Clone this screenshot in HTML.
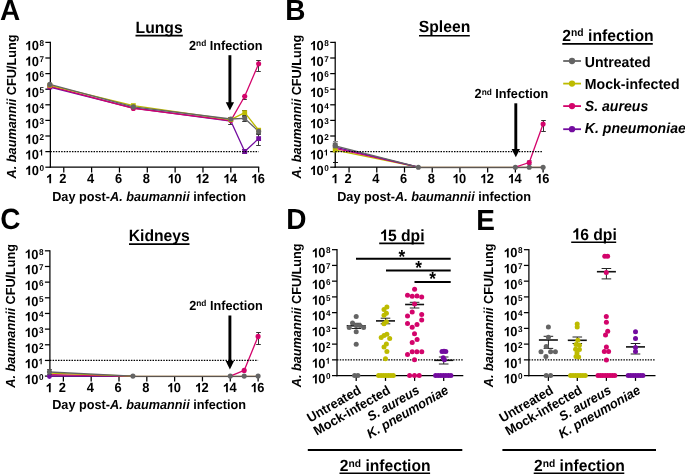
<!DOCTYPE html><html><head><meta charset="utf-8"><style>html,body{margin:0;padding:0;background:#fff;overflow:hidden;width:685px;height:474px;}svg{display:block;will-change:transform;}text{font-family:"Liberation Sans",sans-serif;fill:#000;text-rendering:geometricPrecision;}</style></head><body>
<svg width="685" height="474" viewBox="0 0 685 474">
<rect width="685" height="474" fill="#fff"/>
<defs><path id="one" d="M894 0H615V1052Q462 909 254 841V1094Q363 1130 491 1229Q619 1329 667 1466H894Z"/></defs>
<text transform="translate(-0.1,19.8) scale(1,1.045)" font-size="28" font-weight="bold" text-anchor="start" >A</text>
<text transform="translate(159.15,32.8) scale(1,1.035)" font-size="15.7" font-weight="bold" text-anchor="middle" >Lungs</text>
<line x1="135.5" y1="35.6" x2="182.8" y2="35.6" stroke="#000" stroke-width="1.6" />
<line x1="50.35" y1="41.8" x2="50.35" y2="167.8" stroke="#000" stroke-width="1.25" />
<line x1="45.35" y1="167.2" x2="50.35" y2="167.2" stroke="#000" stroke-width="1.25" />
<use href="#one" transform="translate(24.53,175) scale(0.00630,-0.00627)"/>
<text transform="translate(31.71,175) scale(1,1.035)" font-size="12.9" font-weight="bold" text-anchor="start" >0</text>
<text transform="translate(39.38,171) scale(1,1.035)" font-size="8.2" font-weight="bold" text-anchor="start" >0</text>
<line x1="45.35" y1="151.6" x2="50.35" y2="151.6" stroke="#000" stroke-width="1.25" />
<use href="#one" transform="translate(24.53,159.4) scale(0.00630,-0.00627)"/>
<text transform="translate(31.71,159.4) scale(1,1.035)" font-size="12.9" font-weight="bold" text-anchor="start" >0</text>
<use href="#one" transform="translate(38.58,155.4) scale(0.00400,-0.00398)"/>
<line x1="45.35" y1="136" x2="50.35" y2="136" stroke="#000" stroke-width="1.25" />
<use href="#one" transform="translate(24.53,143.8) scale(0.00630,-0.00627)"/>
<text transform="translate(31.71,143.8) scale(1,1.035)" font-size="12.9" font-weight="bold" text-anchor="start" >0</text>
<text transform="translate(39.38,139.8) scale(1,1.035)" font-size="8.2" font-weight="bold" text-anchor="start" >2</text>
<line x1="45.35" y1="120.4" x2="50.35" y2="120.4" stroke="#000" stroke-width="1.25" />
<use href="#one" transform="translate(24.53,128.2) scale(0.00630,-0.00627)"/>
<text transform="translate(31.71,128.2) scale(1,1.035)" font-size="12.9" font-weight="bold" text-anchor="start" >0</text>
<text transform="translate(39.38,124.2) scale(1,1.035)" font-size="8.2" font-weight="bold" text-anchor="start" >3</text>
<line x1="45.35" y1="104.8" x2="50.35" y2="104.8" stroke="#000" stroke-width="1.25" />
<use href="#one" transform="translate(24.53,112.6) scale(0.00630,-0.00627)"/>
<text transform="translate(31.71,112.6) scale(1,1.035)" font-size="12.9" font-weight="bold" text-anchor="start" >0</text>
<text transform="translate(39.38,108.6) scale(1,1.035)" font-size="8.2" font-weight="bold" text-anchor="start" >4</text>
<line x1="45.35" y1="89.2" x2="50.35" y2="89.2" stroke="#000" stroke-width="1.25" />
<use href="#one" transform="translate(24.53,97) scale(0.00630,-0.00627)"/>
<text transform="translate(31.71,97) scale(1,1.035)" font-size="12.9" font-weight="bold" text-anchor="start" >0</text>
<text transform="translate(39.38,93) scale(1,1.035)" font-size="8.2" font-weight="bold" text-anchor="start" >5</text>
<line x1="45.35" y1="73.6" x2="50.35" y2="73.6" stroke="#000" stroke-width="1.25" />
<use href="#one" transform="translate(24.53,81.4) scale(0.00630,-0.00627)"/>
<text transform="translate(31.71,81.4) scale(1,1.035)" font-size="12.9" font-weight="bold" text-anchor="start" >0</text>
<text transform="translate(39.38,77.4) scale(1,1.035)" font-size="8.2" font-weight="bold" text-anchor="start" >6</text>
<line x1="45.35" y1="58" x2="50.35" y2="58" stroke="#000" stroke-width="1.25" />
<use href="#one" transform="translate(24.53,65.8) scale(0.00630,-0.00627)"/>
<text transform="translate(31.71,65.8) scale(1,1.035)" font-size="12.9" font-weight="bold" text-anchor="start" >0</text>
<text transform="translate(39.38,61.8) scale(1,1.035)" font-size="8.2" font-weight="bold" text-anchor="start" >7</text>
<line x1="45.35" y1="42.4" x2="50.35" y2="42.4" stroke="#000" stroke-width="1.25" />
<use href="#one" transform="translate(24.53,50.2) scale(0.00630,-0.00627)"/>
<text transform="translate(31.71,50.2) scale(1,1.035)" font-size="12.9" font-weight="bold" text-anchor="start" >0</text>
<text transform="translate(39.38,46.2) scale(1,1.035)" font-size="8.2" font-weight="bold" text-anchor="start" >8</text>
<text transform="translate(15.9,106.5) rotate(-90) scale(1,1.035)" font-size="12.7" font-weight="bold" text-anchor="middle"><tspan font-style="italic">A. baumannii</tspan> CFU/Lung</text>
<line x1="49.75" y1="167.2" x2="259.25" y2="167.2" stroke="#000" stroke-width="1.25" />
<use href="#one" transform="translate(45.46,183.3) scale(0.00630,-0.00627)"/>
<line x1="63.77" y1="167.2" x2="63.77" y2="172.5" stroke="#000" stroke-width="1.25" />
<text transform="translate(59.28,183.3) scale(1,1.035)" font-size="12.9" font-weight="bold" text-anchor="start" >2</text>
<line x1="91.61" y1="167.2" x2="91.61" y2="172.5" stroke="#000" stroke-width="1.25" />
<text transform="translate(87.12,183.3) scale(1,1.035)" font-size="12.9" font-weight="bold" text-anchor="start" >4</text>
<line x1="119.45" y1="167.2" x2="119.45" y2="172.5" stroke="#000" stroke-width="1.25" />
<text transform="translate(114.96,183.3) scale(1,1.035)" font-size="12.9" font-weight="bold" text-anchor="start" >6</text>
<line x1="147.29" y1="167.2" x2="147.29" y2="172.5" stroke="#000" stroke-width="1.25" />
<text transform="translate(142.8,183.3) scale(1,1.035)" font-size="12.9" font-weight="bold" text-anchor="start" >8</text>
<line x1="175.13" y1="167.2" x2="175.13" y2="172.5" stroke="#000" stroke-width="1.25" />
<use href="#one" transform="translate(167.06,183.3) scale(0.00630,-0.00627)"/>
<text transform="translate(174.23,183.3) scale(1,1.035)" font-size="12.9" font-weight="bold" text-anchor="start" >0</text>
<line x1="202.97" y1="167.2" x2="202.97" y2="172.5" stroke="#000" stroke-width="1.25" />
<use href="#one" transform="translate(194.9,183.3) scale(0.00630,-0.00627)"/>
<text transform="translate(202.07,183.3) scale(1,1.035)" font-size="12.9" font-weight="bold" text-anchor="start" >2</text>
<line x1="230.81" y1="167.2" x2="230.81" y2="172.5" stroke="#000" stroke-width="1.25" />
<use href="#one" transform="translate(222.74,183.3) scale(0.00630,-0.00627)"/>
<text transform="translate(229.91,183.3) scale(1,1.035)" font-size="12.9" font-weight="bold" text-anchor="start" >4</text>
<line x1="258.65" y1="167.2" x2="258.65" y2="172.5" stroke="#000" stroke-width="1.25" />
<use href="#one" transform="translate(250.58,183.3) scale(0.00630,-0.00627)"/>
<text transform="translate(257.75,183.3) scale(1,1.035)" font-size="12.9" font-weight="bold" text-anchor="start" >6</text>
<text transform="translate(52.2,200.5) scale(1,1.035)" font-size="12.7" font-weight="bold" text-anchor="start" >Day post-<tspan font-style="italic">A. baumannii</tspan> infection</text>
<text transform="translate(189,50) scale(1,1.035)" font-size="12.7" font-weight="bold" text-anchor="start" >2<tspan dy="-3.52" font-size="8.32">nd</tspan><tspan dy="3.52"> Infection</tspan></text>
<line x1="258.5" y1="60.5" x2="258.5" y2="71.5" stroke="#383838" stroke-width="1" />
<line x1="256.2" y1="60.5" x2="260.8" y2="60.5" stroke="#383838" stroke-width="1" />
<line x1="256.2" y1="71.5" x2="260.8" y2="71.5" stroke="#383838" stroke-width="1" />
<line x1="244.5" y1="96.5" x2="244.5" y2="99.5" stroke="#383838" stroke-width="1" />
<line x1="242.2" y1="96.5" x2="246.8" y2="96.5" stroke="#383838" stroke-width="1" />
<line x1="242.2" y1="99.5" x2="246.8" y2="99.5" stroke="#383838" stroke-width="1" />
<line x1="244.5" y1="110.5" x2="244.5" y2="115.5" stroke="#383838" stroke-width="1" />
<line x1="242.2" y1="110.5" x2="246.8" y2="110.5" stroke="#383838" stroke-width="1" />
<line x1="242.2" y1="115.5" x2="246.8" y2="115.5" stroke="#383838" stroke-width="1" />
<line x1="244.5" y1="116.5" x2="244.5" y2="121.5" stroke="#383838" stroke-width="1" />
<line x1="242.2" y1="116.5" x2="246.8" y2="116.5" stroke="#383838" stroke-width="1" />
<line x1="242.2" y1="121.5" x2="246.8" y2="121.5" stroke="#383838" stroke-width="1" />
<line x1="258.5" y1="128.5" x2="258.5" y2="134.5" stroke="#383838" stroke-width="1" />
<line x1="256.2" y1="128.5" x2="260.8" y2="128.5" stroke="#383838" stroke-width="1" />
<line x1="256.2" y1="134.5" x2="260.8" y2="134.5" stroke="#383838" stroke-width="1" />
<line x1="258.5" y1="133.5" x2="258.5" y2="145.5" stroke="#383838" stroke-width="1" />
<line x1="256.2" y1="133.5" x2="260.8" y2="133.5" stroke="#383838" stroke-width="1" />
<line x1="256.2" y1="145.5" x2="260.8" y2="145.5" stroke="#383838" stroke-width="1" />
<line x1="244.5" y1="149.5" x2="244.5" y2="153.5" stroke="#383838" stroke-width="1" />
<line x1="242.2" y1="149.5" x2="246.8" y2="149.5" stroke="#383838" stroke-width="1" />
<line x1="242.2" y1="153.5" x2="246.8" y2="153.5" stroke="#383838" stroke-width="1" />
<line x1="230.5" y1="117.5" x2="230.5" y2="124.5" stroke="#383838" stroke-width="1" />
<line x1="228.2" y1="117.5" x2="232.8" y2="117.5" stroke="#383838" stroke-width="1" />
<line x1="228.2" y1="124.5" x2="232.8" y2="124.5" stroke="#383838" stroke-width="1" />
<path d="M49.85,87 L133.37,108 L230.81,121 L244.73,151.5 L258.65,138.6" fill="none" stroke="#730c9f" stroke-width="1.3" stroke-linejoin="round"/>
<path d="M49.85,86.2 L133.37,108.4 L230.81,120.6 L244.73,96.2 L258.65,63.7" fill="none" stroke="#d3046b" stroke-width="1.3" stroke-linejoin="round"/>
<path d="M49.85,85.3 L133.37,105.6 L230.81,119.6 L244.73,112.7 L258.65,130.2" fill="none" stroke="#bdbb00" stroke-width="1.3" stroke-linejoin="round"/>
<path d="M49.85,84.4 L133.37,106.9 L230.81,119 L244.73,118.4 L258.65,131.4" fill="none" stroke="#646464" stroke-width="1.3" stroke-linejoin="round"/>
<rect x="47.45" y="84.6" width="4.8" height="4.8" fill="#730c9f"/>
<rect x="242.33" y="149.1" width="4.8" height="4.8" fill="#730c9f"/>
<rect x="256.25" y="136.2" width="4.8" height="4.8" fill="#730c9f"/>
<circle cx="49.85" cy="86.2" r="2.55" fill="#d3046b"/>
<circle cx="133.37" cy="108.4" r="2.55" fill="#d3046b"/>
<circle cx="230.81" cy="120.6" r="2.55" fill="#d3046b"/>
<circle cx="244.73" cy="96.2" r="2.55" fill="#d3046b"/>
<circle cx="258.65" cy="63.7" r="2.55" fill="#d3046b"/>
<rect x="47.45" y="82.9" width="4.8" height="4.8" fill="#bdbb00"/>
<rect x="130.97" y="103.2" width="4.8" height="4.8" fill="#bdbb00"/>
<rect x="228.41" y="117.2" width="4.8" height="4.8" fill="#bdbb00"/>
<rect x="242.33" y="110.3" width="4.8" height="4.8" fill="#bdbb00"/>
<rect x="256.25" y="127.8" width="4.8" height="4.8" fill="#bdbb00"/>
<circle cx="49.85" cy="84.4" r="2.55" fill="#646464"/>
<circle cx="133.37" cy="106.9" r="2.55" fill="#646464"/>
<circle cx="230.81" cy="119" r="2.55" fill="#646464"/>
<circle cx="244.73" cy="118.4" r="2.55" fill="#646464"/>
<circle cx="258.65" cy="131.4" r="2.55" fill="#646464"/>
<line x1="50.35" y1="151.6" x2="258.65" y2="151.6" stroke="#000" stroke-width="1.3" stroke-dasharray="1.5 1.2"/>
<line x1="229.9" y1="55.2" x2="229.9" y2="103.3" stroke="#000" stroke-width="2.9" />
<path d="M225.75,102.3 L234.05,102.3 L229.9,110.6 Z" fill="#000"/>
<text transform="translate(285.3,19.9) scale(1,1.045)" font-size="28" font-weight="bold" text-anchor="start" >B</text>
<text transform="translate(444.5,32.3) scale(1,1.035)" font-size="15.7" font-weight="bold" text-anchor="middle" >Spleen</text>
<line x1="419" y1="35.8" x2="469.8" y2="35.8" stroke="#000" stroke-width="1.6" />
<line x1="335.2" y1="41.8" x2="335.2" y2="167.8" stroke="#000" stroke-width="1.25" />
<line x1="330.2" y1="167.2" x2="335.2" y2="167.2" stroke="#000" stroke-width="1.25" />
<use href="#one" transform="translate(309.38,175) scale(0.00630,-0.00627)"/>
<text transform="translate(316.56,175) scale(1,1.035)" font-size="12.9" font-weight="bold" text-anchor="start" >0</text>
<text transform="translate(324.23,171) scale(1,1.035)" font-size="8.2" font-weight="bold" text-anchor="start" >0</text>
<line x1="330.2" y1="151.6" x2="335.2" y2="151.6" stroke="#000" stroke-width="1.25" />
<use href="#one" transform="translate(309.38,159.4) scale(0.00630,-0.00627)"/>
<text transform="translate(316.56,159.4) scale(1,1.035)" font-size="12.9" font-weight="bold" text-anchor="start" >0</text>
<use href="#one" transform="translate(323.43,155.4) scale(0.00400,-0.00398)"/>
<line x1="330.2" y1="136" x2="335.2" y2="136" stroke="#000" stroke-width="1.25" />
<use href="#one" transform="translate(309.38,143.8) scale(0.00630,-0.00627)"/>
<text transform="translate(316.56,143.8) scale(1,1.035)" font-size="12.9" font-weight="bold" text-anchor="start" >0</text>
<text transform="translate(324.23,139.8) scale(1,1.035)" font-size="8.2" font-weight="bold" text-anchor="start" >2</text>
<line x1="330.2" y1="120.4" x2="335.2" y2="120.4" stroke="#000" stroke-width="1.25" />
<use href="#one" transform="translate(309.38,128.2) scale(0.00630,-0.00627)"/>
<text transform="translate(316.56,128.2) scale(1,1.035)" font-size="12.9" font-weight="bold" text-anchor="start" >0</text>
<text transform="translate(324.23,124.2) scale(1,1.035)" font-size="8.2" font-weight="bold" text-anchor="start" >3</text>
<line x1="330.2" y1="104.8" x2="335.2" y2="104.8" stroke="#000" stroke-width="1.25" />
<use href="#one" transform="translate(309.38,112.6) scale(0.00630,-0.00627)"/>
<text transform="translate(316.56,112.6) scale(1,1.035)" font-size="12.9" font-weight="bold" text-anchor="start" >0</text>
<text transform="translate(324.23,108.6) scale(1,1.035)" font-size="8.2" font-weight="bold" text-anchor="start" >4</text>
<line x1="330.2" y1="89.2" x2="335.2" y2="89.2" stroke="#000" stroke-width="1.25" />
<use href="#one" transform="translate(309.38,97) scale(0.00630,-0.00627)"/>
<text transform="translate(316.56,97) scale(1,1.035)" font-size="12.9" font-weight="bold" text-anchor="start" >0</text>
<text transform="translate(324.23,93) scale(1,1.035)" font-size="8.2" font-weight="bold" text-anchor="start" >5</text>
<line x1="330.2" y1="73.6" x2="335.2" y2="73.6" stroke="#000" stroke-width="1.25" />
<use href="#one" transform="translate(309.38,81.4) scale(0.00630,-0.00627)"/>
<text transform="translate(316.56,81.4) scale(1,1.035)" font-size="12.9" font-weight="bold" text-anchor="start" >0</text>
<text transform="translate(324.23,77.4) scale(1,1.035)" font-size="8.2" font-weight="bold" text-anchor="start" >6</text>
<line x1="330.2" y1="58" x2="335.2" y2="58" stroke="#000" stroke-width="1.25" />
<use href="#one" transform="translate(309.38,65.8) scale(0.00630,-0.00627)"/>
<text transform="translate(316.56,65.8) scale(1,1.035)" font-size="12.9" font-weight="bold" text-anchor="start" >0</text>
<text transform="translate(324.23,61.8) scale(1,1.035)" font-size="8.2" font-weight="bold" text-anchor="start" >7</text>
<line x1="330.2" y1="42.4" x2="335.2" y2="42.4" stroke="#000" stroke-width="1.25" />
<use href="#one" transform="translate(309.38,50.2) scale(0.00630,-0.00627)"/>
<text transform="translate(316.56,50.2) scale(1,1.035)" font-size="12.9" font-weight="bold" text-anchor="start" >0</text>
<text transform="translate(324.23,46.2) scale(1,1.035)" font-size="8.2" font-weight="bold" text-anchor="start" >8</text>
<text transform="translate(301,106.6) rotate(-90) scale(1,1.035)" font-size="12.7" font-weight="bold" text-anchor="middle"><tspan font-style="italic">A. baumannii</tspan> CFU/Lung</text>
<line x1="334.6" y1="167.2" x2="543.7" y2="167.2" stroke="#000" stroke-width="1.25" />
<use href="#one" transform="translate(330.81,183.3) scale(0.00630,-0.00627)"/>
<line x1="349.06" y1="167.2" x2="349.06" y2="172.5" stroke="#000" stroke-width="1.25" />
<text transform="translate(344.57,183.3) scale(1,1.035)" font-size="12.9" font-weight="bold" text-anchor="start" >2</text>
<line x1="376.78" y1="167.2" x2="376.78" y2="172.5" stroke="#000" stroke-width="1.25" />
<text transform="translate(372.29,183.3) scale(1,1.035)" font-size="12.9" font-weight="bold" text-anchor="start" >4</text>
<line x1="404.5" y1="167.2" x2="404.5" y2="172.5" stroke="#000" stroke-width="1.25" />
<text transform="translate(400.01,183.3) scale(1,1.035)" font-size="12.9" font-weight="bold" text-anchor="start" >6</text>
<line x1="432.22" y1="167.2" x2="432.22" y2="172.5" stroke="#000" stroke-width="1.25" />
<text transform="translate(427.73,183.3) scale(1,1.035)" font-size="12.9" font-weight="bold" text-anchor="start" >8</text>
<line x1="459.94" y1="167.2" x2="459.94" y2="172.5" stroke="#000" stroke-width="1.25" />
<use href="#one" transform="translate(451.87,183.3) scale(0.00630,-0.00627)"/>
<text transform="translate(459.04,183.3) scale(1,1.035)" font-size="12.9" font-weight="bold" text-anchor="start" >0</text>
<line x1="487.66" y1="167.2" x2="487.66" y2="172.5" stroke="#000" stroke-width="1.25" />
<use href="#one" transform="translate(479.59,183.3) scale(0.00630,-0.00627)"/>
<text transform="translate(486.76,183.3) scale(1,1.035)" font-size="12.9" font-weight="bold" text-anchor="start" >2</text>
<line x1="515.38" y1="167.2" x2="515.38" y2="172.5" stroke="#000" stroke-width="1.25" />
<use href="#one" transform="translate(507.31,183.3) scale(0.00630,-0.00627)"/>
<text transform="translate(514.48,183.3) scale(1,1.035)" font-size="12.9" font-weight="bold" text-anchor="start" >4</text>
<line x1="543.1" y1="167.2" x2="543.1" y2="172.5" stroke="#000" stroke-width="1.25" />
<use href="#one" transform="translate(535.03,183.3) scale(0.00630,-0.00627)"/>
<text transform="translate(542.2,183.3) scale(1,1.035)" font-size="12.9" font-weight="bold" text-anchor="start" >6</text>
<text transform="translate(337.2,200.5) scale(1,1.035)" font-size="12.7" font-weight="bold" text-anchor="start" >Day post-<tspan font-style="italic">A. baumannii</tspan> infection</text>
<text transform="translate(474.6,98.2) scale(1,1.035)" font-size="12.7" font-weight="bold" text-anchor="start" >2<tspan dy="-3.52" font-size="8.32">nd</tspan><tspan dy="3.52"> Infection</tspan></text>
<line x1="335.5" y1="146.5" x2="335.5" y2="162.5" stroke="#111" stroke-width="1" />
<line x1="333" y1="146.5" x2="338" y2="146.5" stroke="#111" stroke-width="1" />
<line x1="333" y1="162.5" x2="338" y2="162.5" stroke="#111" stroke-width="1" />
<line x1="335.5" y1="141.5" x2="335.5" y2="146.5" stroke="#8a8a8a" stroke-width="1" />
<line x1="333" y1="141.5" x2="338" y2="141.5" stroke="#8a8a8a" stroke-width="1" />
<line x1="333" y1="146.5" x2="338" y2="146.5" stroke="#8a8a8a" stroke-width="1" />
<line x1="543.5" y1="120.5" x2="543.5" y2="131.5" stroke="#333" stroke-width="1" />
<line x1="541.2" y1="120.5" x2="545.8" y2="120.5" stroke="#333" stroke-width="1" />
<line x1="541.2" y1="131.5" x2="545.8" y2="131.5" stroke="#333" stroke-width="1" />
<line x1="529.5" y1="160.5" x2="529.5" y2="164.5" stroke="#999" stroke-width="1" />
<line x1="527.2" y1="160.5" x2="531.8" y2="160.5" stroke="#999" stroke-width="1" />
<line x1="527.2" y1="164.5" x2="531.8" y2="164.5" stroke="#999" stroke-width="1" />
<line x1="418.36" y1="166.7" x2="543.1" y2="166.7" stroke="#d9c9b6" stroke-width="1.0" />
<line x1="418.36" y1="167.7" x2="543.1" y2="167.7" stroke="#5d5650" stroke-width="1.0" />
<path d="M335.2,150.2 L418.36,167.2" fill="none" stroke="#bdbb00" stroke-width="1.3" stroke-linejoin="round"/>
<path d="M335.2,148.4 L418.36,167.2" fill="none" stroke="#d3046b" stroke-width="1.3" stroke-linejoin="round"/>
<path d="M335.2,147.2 L418.36,167.2" fill="none" stroke="#730c9f" stroke-width="1.3" stroke-linejoin="round"/>
<path d="M335.2,145.8 L418.36,167.2" fill="none" stroke="#646464" stroke-width="1.3" stroke-linejoin="round"/>
<path d="M515.38,167.2 L529.24,162.5 L543.1,124" fill="none" stroke="#d3046b" stroke-width="1.3" stroke-linejoin="round"/>
<rect x="332.8" y="147.6" width="4.8" height="4.8" fill="#bdbb00"/>
<circle cx="529.24" cy="162.5" r="2.55" fill="#d3046b"/>
<circle cx="543.1" cy="124" r="2.55" fill="#d3046b"/>
<rect x="332.8" y="142.6" width="4.8" height="5.6" fill="#646464"/>
<circle cx="335.2" cy="145.8" r="2.55" fill="#646464"/>
<circle cx="418.36" cy="167.2" r="2.55" fill="#646464"/>
<circle cx="515.38" cy="167.2" r="2.55" fill="#646464"/>
<circle cx="529.24" cy="167.2" r="2.55" fill="#646464"/>
<circle cx="543.1" cy="167.2" r="2.55" fill="#646464"/>
<line x1="335.2" y1="151.6" x2="543.1" y2="151.6" stroke="#000" stroke-width="1.3" stroke-dasharray="1.5 1.2"/>
<line x1="515.8" y1="103.3" x2="515.8" y2="150" stroke="#000" stroke-width="2.9" />
<path d="M511.65,149 L519.95,149 L515.8,157.3 Z" fill="#000"/>
<text transform="translate(0.15,228.5) scale(1,1.045)" font-size="28" font-weight="bold" text-anchor="start" >C</text>
<text transform="translate(159.25,241.4) scale(1,1.035)" font-size="15.7" font-weight="bold" text-anchor="middle" >Kidneys</text>
<line x1="129" y1="244.1" x2="189.5" y2="244.1" stroke="#000" stroke-width="1.6" />
<line x1="49.9" y1="250.22" x2="49.9" y2="376.7" stroke="#000" stroke-width="1.25" />
<line x1="44.9" y1="376.1" x2="49.9" y2="376.1" stroke="#000" stroke-width="1.25" />
<use href="#one" transform="translate(24.08,383.9) scale(0.00630,-0.00627)"/>
<text transform="translate(31.26,383.9) scale(1,1.035)" font-size="12.9" font-weight="bold" text-anchor="start" >0</text>
<text transform="translate(38.93,379.9) scale(1,1.035)" font-size="8.2" font-weight="bold" text-anchor="start" >0</text>
<line x1="44.9" y1="360.44" x2="49.9" y2="360.44" stroke="#000" stroke-width="1.25" />
<use href="#one" transform="translate(24.08,368.24) scale(0.00630,-0.00627)"/>
<text transform="translate(31.26,368.24) scale(1,1.035)" font-size="12.9" font-weight="bold" text-anchor="start" >0</text>
<use href="#one" transform="translate(38.13,364.24) scale(0.00400,-0.00398)"/>
<line x1="44.9" y1="344.78" x2="49.9" y2="344.78" stroke="#000" stroke-width="1.25" />
<use href="#one" transform="translate(24.08,352.58) scale(0.00630,-0.00627)"/>
<text transform="translate(31.26,352.58) scale(1,1.035)" font-size="12.9" font-weight="bold" text-anchor="start" >0</text>
<text transform="translate(38.93,348.58) scale(1,1.035)" font-size="8.2" font-weight="bold" text-anchor="start" >2</text>
<line x1="44.9" y1="329.12" x2="49.9" y2="329.12" stroke="#000" stroke-width="1.25" />
<use href="#one" transform="translate(24.08,336.92) scale(0.00630,-0.00627)"/>
<text transform="translate(31.26,336.92) scale(1,1.035)" font-size="12.9" font-weight="bold" text-anchor="start" >0</text>
<text transform="translate(38.93,332.92) scale(1,1.035)" font-size="8.2" font-weight="bold" text-anchor="start" >3</text>
<line x1="44.9" y1="313.46" x2="49.9" y2="313.46" stroke="#000" stroke-width="1.25" />
<use href="#one" transform="translate(24.08,321.26) scale(0.00630,-0.00627)"/>
<text transform="translate(31.26,321.26) scale(1,1.035)" font-size="12.9" font-weight="bold" text-anchor="start" >0</text>
<text transform="translate(38.93,317.26) scale(1,1.035)" font-size="8.2" font-weight="bold" text-anchor="start" >4</text>
<line x1="44.9" y1="297.8" x2="49.9" y2="297.8" stroke="#000" stroke-width="1.25" />
<use href="#one" transform="translate(24.08,305.6) scale(0.00630,-0.00627)"/>
<text transform="translate(31.26,305.6) scale(1,1.035)" font-size="12.9" font-weight="bold" text-anchor="start" >0</text>
<text transform="translate(38.93,301.6) scale(1,1.035)" font-size="8.2" font-weight="bold" text-anchor="start" >5</text>
<line x1="44.9" y1="282.14" x2="49.9" y2="282.14" stroke="#000" stroke-width="1.25" />
<use href="#one" transform="translate(24.08,289.94) scale(0.00630,-0.00627)"/>
<text transform="translate(31.26,289.94) scale(1,1.035)" font-size="12.9" font-weight="bold" text-anchor="start" >0</text>
<text transform="translate(38.93,285.94) scale(1,1.035)" font-size="8.2" font-weight="bold" text-anchor="start" >6</text>
<line x1="44.9" y1="266.48" x2="49.9" y2="266.48" stroke="#000" stroke-width="1.25" />
<use href="#one" transform="translate(24.08,274.28) scale(0.00630,-0.00627)"/>
<text transform="translate(31.26,274.28) scale(1,1.035)" font-size="12.9" font-weight="bold" text-anchor="start" >0</text>
<text transform="translate(38.93,270.28) scale(1,1.035)" font-size="8.2" font-weight="bold" text-anchor="start" >7</text>
<line x1="44.9" y1="250.82" x2="49.9" y2="250.82" stroke="#000" stroke-width="1.25" />
<use href="#one" transform="translate(24.08,258.62) scale(0.00630,-0.00627)"/>
<text transform="translate(31.26,258.62) scale(1,1.035)" font-size="12.9" font-weight="bold" text-anchor="start" >0</text>
<text transform="translate(38.93,254.62) scale(1,1.035)" font-size="8.2" font-weight="bold" text-anchor="start" >8</text>
<text transform="translate(15.2,315.8) rotate(-90) scale(1,1.035)" font-size="12.7" font-weight="bold" text-anchor="middle"><tspan font-style="italic">A. baumannii</tspan> CFU/Lung</text>
<line x1="49.3" y1="376.1" x2="258.7" y2="376.1" stroke="#000" stroke-width="1.25" />
<use href="#one" transform="translate(45.06,392.3) scale(0.00630,-0.00627)"/>
<line x1="63.36" y1="376.1" x2="63.36" y2="381.4" stroke="#000" stroke-width="1.25" />
<text transform="translate(58.87,392.3) scale(1,1.035)" font-size="12.9" font-weight="bold" text-anchor="start" >2</text>
<line x1="91.18" y1="376.1" x2="91.18" y2="381.4" stroke="#000" stroke-width="1.25" />
<text transform="translate(86.69,392.3) scale(1,1.035)" font-size="12.9" font-weight="bold" text-anchor="start" >4</text>
<line x1="119" y1="376.1" x2="119" y2="381.4" stroke="#000" stroke-width="1.25" />
<text transform="translate(114.51,392.3) scale(1,1.035)" font-size="12.9" font-weight="bold" text-anchor="start" >6</text>
<line x1="146.82" y1="376.1" x2="146.82" y2="381.4" stroke="#000" stroke-width="1.25" />
<text transform="translate(142.33,392.3) scale(1,1.035)" font-size="12.9" font-weight="bold" text-anchor="start" >8</text>
<line x1="174.64" y1="376.1" x2="174.64" y2="381.4" stroke="#000" stroke-width="1.25" />
<use href="#one" transform="translate(166.57,392.3) scale(0.00630,-0.00627)"/>
<text transform="translate(173.74,392.3) scale(1,1.035)" font-size="12.9" font-weight="bold" text-anchor="start" >0</text>
<line x1="202.46" y1="376.1" x2="202.46" y2="381.4" stroke="#000" stroke-width="1.25" />
<use href="#one" transform="translate(194.39,392.3) scale(0.00630,-0.00627)"/>
<text transform="translate(201.56,392.3) scale(1,1.035)" font-size="12.9" font-weight="bold" text-anchor="start" >2</text>
<line x1="230.28" y1="376.1" x2="230.28" y2="381.4" stroke="#000" stroke-width="1.25" />
<use href="#one" transform="translate(222.21,392.3) scale(0.00630,-0.00627)"/>
<text transform="translate(229.38,392.3) scale(1,1.035)" font-size="12.9" font-weight="bold" text-anchor="start" >4</text>
<line x1="258.1" y1="376.1" x2="258.1" y2="381.4" stroke="#000" stroke-width="1.25" />
<use href="#one" transform="translate(250.03,392.3) scale(0.00630,-0.00627)"/>
<text transform="translate(257.2,392.3) scale(1,1.035)" font-size="12.9" font-weight="bold" text-anchor="start" >6</text>
<text transform="translate(52.2,409.2) scale(1,1.035)" font-size="12.7" font-weight="bold" text-anchor="start" >Day post-<tspan font-style="italic">A. baumannii</tspan> infection</text>
<text transform="translate(189.2,309.7) scale(1,1.035)" font-size="12.7" font-weight="bold" text-anchor="start" >2<tspan dy="-3.52" font-size="8.32">nd</tspan><tspan dy="3.52"> Infection</tspan></text>
<line x1="132.91" y1="375.6" x2="258.1" y2="375.6" stroke="#d9c9b6" stroke-width="1.0" />
<line x1="132.91" y1="376.6" x2="258.1" y2="376.6" stroke="#5d5650" stroke-width="1.0" />
<path d="M49.45,376.1 L132.91,376.1" fill="none" stroke="#730c9f" stroke-width="1.3" stroke-linejoin="round"/>
<path d="M49.45,374.6 L132.91,376.1" fill="none" stroke="#d3046b" stroke-width="1.3" stroke-linejoin="round"/>
<path d="M49.45,373.2 L132.91,376.1" fill="none" stroke="#bdbb00" stroke-width="1.3" stroke-linejoin="round"/>
<path d="M49.45,372 L132.91,376.1" fill="none" stroke="#646464" stroke-width="1.3" stroke-linejoin="round"/>
<path d="M230.28,376.1 L244.19,370.4 L258.1,336.4" fill="none" stroke="#d3046b" stroke-width="1.3" stroke-linejoin="round"/>
<line x1="258.5" y1="332.5" x2="258.5" y2="344.5" stroke="#333" stroke-width="1" />
<line x1="256.2" y1="332.5" x2="260.8" y2="332.5" stroke="#333" stroke-width="1" />
<line x1="256.2" y1="344.5" x2="260.8" y2="344.5" stroke="#333" stroke-width="1" />
<line x1="49.5" y1="369.5" x2="49.5" y2="374.5" stroke="#444" stroke-width="1" />
<line x1="47.2" y1="369.5" x2="51.8" y2="369.5" stroke="#444" stroke-width="1" />
<line x1="47.2" y1="374.5" x2="51.8" y2="374.5" stroke="#444" stroke-width="1" />
<circle cx="49.45" cy="376.6" r="2.4" fill="#730c9f"/>
<circle cx="244.19" cy="370.4" r="2.55" fill="#d3046b"/>
<circle cx="258.1" cy="336.4" r="2.55" fill="#d3046b"/>
<circle cx="49.45" cy="371.9" r="2.55" fill="#646464"/>
<circle cx="132.91" cy="376.1" r="2.55" fill="#646464"/>
<circle cx="230.28" cy="376.1" r="2.55" fill="#646464"/>
<circle cx="244.19" cy="376.1" r="2.55" fill="#646464"/>
<circle cx="258.1" cy="376.1" r="2.55" fill="#646464"/>
<line x1="49.9" y1="360.44" x2="258.1" y2="360.44" stroke="#000" stroke-width="1.3" stroke-dasharray="1.5 1.2"/>
<line x1="229.9" y1="315.5" x2="229.9" y2="362.1" stroke="#000" stroke-width="2.9" />
<path d="M225.75,361.1 L234.05,361.1 L229.9,369.4 Z" fill="#000"/>
<text transform="translate(562.3,41) scale(1,1.035)" font-size="15.75" font-weight="bold" text-anchor="start" >2<tspan dy="-4.36" font-size="10.32">nd</tspan><tspan dy="4.36"> infection</tspan></text>
<line x1="562.3" y1="43.9" x2="652.8" y2="43.9" stroke="#000" stroke-width="1.6" />
<line x1="563.2" y1="61" x2="581" y2="61" stroke="#646464" stroke-width="1.8" />
<circle cx="572" cy="61" r="3.15" fill="#646464"/>
<text transform="translate(584.8,67.2) scale(1,1.035)" font-size="14.1" font-weight="bold" text-anchor="start" >Untreated</text>
<line x1="563.2" y1="83.6" x2="581" y2="83.6" stroke="#bdbb00" stroke-width="1.8" />
<circle cx="572" cy="83.6" r="3.15" fill="#bdbb00"/>
<text transform="translate(584.8,89.3) scale(1,1.035)" font-size="14.1" font-weight="bold" text-anchor="start" >Mock-infected</text>
<line x1="563.2" y1="106.1" x2="581" y2="106.1" stroke="#d3046b" stroke-width="1.8" />
<circle cx="572" cy="106.1" r="3.15" fill="#d3046b"/>
<text transform="translate(584.8,111.4) scale(1,1.035)" font-size="14.1" font-weight="bold" text-anchor="start" font-style="italic" >S. aureus</text>
<line x1="563.2" y1="129.2" x2="581" y2="129.2" stroke="#730c9f" stroke-width="1.8" />
<circle cx="572" cy="129.2" r="3.15" fill="#730c9f"/>
<text transform="translate(584.8,133.4) scale(1,1.035)" font-size="14.1" font-weight="bold" text-anchor="start" font-style="italic" >K. pneumoniae</text>
<text transform="translate(286.2,229.4) scale(1,1.045)" font-size="28" font-weight="bold" text-anchor="start" >D</text>
<use href="#one" transform="translate(379.22,240.7) scale(0.00767,-0.00763)"/>
<text transform="translate(387.95,240.7) scale(1,1.035)" font-size="15.7" font-weight="bold" text-anchor="start" >5 dpi</text>
<line x1="379.2" y1="243.4" x2="424.3" y2="243.4" stroke="#000" stroke-width="1.6" />
<line x1="337" y1="249.08" x2="337" y2="376.2" stroke="#000" stroke-width="1.25" />
<line x1="332" y1="375.6" x2="337" y2="375.6" stroke="#000" stroke-width="1.25" />
<use href="#one" transform="translate(311.18,383.4) scale(0.00630,-0.00627)"/>
<text transform="translate(318.36,383.4) scale(1,1.035)" font-size="12.9" font-weight="bold" text-anchor="start" >0</text>
<text transform="translate(326.03,379.4) scale(1,1.035)" font-size="8.2" font-weight="bold" text-anchor="start" >0</text>
<line x1="332" y1="359.86" x2="337" y2="359.86" stroke="#000" stroke-width="1.25" />
<use href="#one" transform="translate(311.18,367.66) scale(0.00630,-0.00627)"/>
<text transform="translate(318.36,367.66) scale(1,1.035)" font-size="12.9" font-weight="bold" text-anchor="start" >0</text>
<use href="#one" transform="translate(325.23,363.66) scale(0.00400,-0.00398)"/>
<line x1="332" y1="344.12" x2="337" y2="344.12" stroke="#000" stroke-width="1.25" />
<use href="#one" transform="translate(311.18,351.92) scale(0.00630,-0.00627)"/>
<text transform="translate(318.36,351.92) scale(1,1.035)" font-size="12.9" font-weight="bold" text-anchor="start" >0</text>
<text transform="translate(326.03,347.92) scale(1,1.035)" font-size="8.2" font-weight="bold" text-anchor="start" >2</text>
<line x1="332" y1="328.38" x2="337" y2="328.38" stroke="#000" stroke-width="1.25" />
<use href="#one" transform="translate(311.18,336.18) scale(0.00630,-0.00627)"/>
<text transform="translate(318.36,336.18) scale(1,1.035)" font-size="12.9" font-weight="bold" text-anchor="start" >0</text>
<text transform="translate(326.03,332.18) scale(1,1.035)" font-size="8.2" font-weight="bold" text-anchor="start" >3</text>
<line x1="332" y1="312.64" x2="337" y2="312.64" stroke="#000" stroke-width="1.25" />
<use href="#one" transform="translate(311.18,320.44) scale(0.00630,-0.00627)"/>
<text transform="translate(318.36,320.44) scale(1,1.035)" font-size="12.9" font-weight="bold" text-anchor="start" >0</text>
<text transform="translate(326.03,316.44) scale(1,1.035)" font-size="8.2" font-weight="bold" text-anchor="start" >4</text>
<line x1="332" y1="296.9" x2="337" y2="296.9" stroke="#000" stroke-width="1.25" />
<use href="#one" transform="translate(311.18,304.7) scale(0.00630,-0.00627)"/>
<text transform="translate(318.36,304.7) scale(1,1.035)" font-size="12.9" font-weight="bold" text-anchor="start" >0</text>
<text transform="translate(326.03,300.7) scale(1,1.035)" font-size="8.2" font-weight="bold" text-anchor="start" >5</text>
<line x1="332" y1="281.16" x2="337" y2="281.16" stroke="#000" stroke-width="1.25" />
<use href="#one" transform="translate(311.18,288.96) scale(0.00630,-0.00627)"/>
<text transform="translate(318.36,288.96) scale(1,1.035)" font-size="12.9" font-weight="bold" text-anchor="start" >0</text>
<text transform="translate(326.03,284.96) scale(1,1.035)" font-size="8.2" font-weight="bold" text-anchor="start" >6</text>
<line x1="332" y1="265.42" x2="337" y2="265.42" stroke="#000" stroke-width="1.25" />
<use href="#one" transform="translate(311.18,273.22) scale(0.00630,-0.00627)"/>
<text transform="translate(318.36,273.22) scale(1,1.035)" font-size="12.9" font-weight="bold" text-anchor="start" >0</text>
<text transform="translate(326.03,269.22) scale(1,1.035)" font-size="8.2" font-weight="bold" text-anchor="start" >7</text>
<line x1="332" y1="249.68" x2="337" y2="249.68" stroke="#000" stroke-width="1.25" />
<use href="#one" transform="translate(311.18,257.48) scale(0.00630,-0.00627)"/>
<text transform="translate(318.36,257.48) scale(1,1.035)" font-size="12.9" font-weight="bold" text-anchor="start" >0</text>
<text transform="translate(326.03,253.48) scale(1,1.035)" font-size="8.2" font-weight="bold" text-anchor="start" >8</text>
<text transform="translate(301.1,315.3) rotate(-90) scale(1,1.035)" font-size="12.7" font-weight="bold" text-anchor="middle"><tspan font-style="italic">A. baumannii</tspan> CFU/Lung</text>
<line x1="337" y1="359.86" x2="463.3" y2="359.86" stroke="#000" stroke-width="1.3" stroke-dasharray="1.5 1.2"/>
<line x1="336.4" y1="375.6" x2="463.3" y2="375.6" stroke="#000" stroke-width="1.25" />
<line x1="356.2" y1="375.6" x2="356.2" y2="380.9" stroke="#000" stroke-width="1.25" />
<line x1="385.5" y1="375.6" x2="385.5" y2="380.9" stroke="#000" stroke-width="1.25" />
<line x1="414.6" y1="375.6" x2="414.6" y2="380.9" stroke="#000" stroke-width="1.25" />
<line x1="443.7" y1="375.6" x2="443.7" y2="380.9" stroke="#000" stroke-width="1.25" />
<line x1="356.2" y1="323.3" x2="356.2" y2="328.5" stroke="#222" stroke-width="1.0" />
<line x1="351.4" y1="323.3" x2="361" y2="323.3" stroke="#222" stroke-width="1.0" />
<line x1="351.4" y1="328.5" x2="361" y2="328.5" stroke="#222" stroke-width="1.0" />
<line x1="346.7" y1="325.8" x2="365.7" y2="325.8" stroke="#111" stroke-width="1.6" />
<line x1="385.5" y1="318.2" x2="385.5" y2="323.8" stroke="#222" stroke-width="1.0" />
<line x1="380.7" y1="318.2" x2="390.3" y2="318.2" stroke="#222" stroke-width="1.0" />
<line x1="380.7" y1="323.8" x2="390.3" y2="323.8" stroke="#222" stroke-width="1.0" />
<line x1="376" y1="320.9" x2="395" y2="320.9" stroke="#111" stroke-width="1.6" />
<line x1="414.6" y1="302.3" x2="414.6" y2="308" stroke="#222" stroke-width="1.0" />
<line x1="409.8" y1="302.3" x2="419.4" y2="302.3" stroke="#222" stroke-width="1.0" />
<line x1="409.8" y1="308" x2="419.4" y2="308" stroke="#222" stroke-width="1.0" />
<line x1="405.1" y1="304.5" x2="424.1" y2="304.5" stroke="#111" stroke-width="1.6" />
<line x1="443.7" y1="357" x2="443.7" y2="364" stroke="#222" stroke-width="1.0" />
<line x1="438.9" y1="357" x2="448.5" y2="357" stroke="#222" stroke-width="1.0" />
<line x1="438.9" y1="364" x2="448.5" y2="364" stroke="#222" stroke-width="1.0" />
<line x1="434.2" y1="360.3" x2="453.2" y2="360.3" stroke="#111" stroke-width="1.6" />
<circle cx="356.2" cy="316.6" r="2.5" fill="#646464"/>
<circle cx="352.5" cy="323" r="2.5" fill="#646464"/>
<circle cx="349.2" cy="327.4" r="2.5" fill="#646464"/>
<circle cx="356.2" cy="325.5" r="2.5" fill="#646464"/>
<circle cx="359.9" cy="325.5" r="2.5" fill="#646464"/>
<circle cx="363.6" cy="327.4" r="2.5" fill="#646464"/>
<circle cx="356.2" cy="331.8" r="2.5" fill="#646464"/>
<circle cx="356.2" cy="344.2" r="2.5" fill="#646464"/>
<circle cx="354.6" cy="375.5" r="2.5" fill="#646464"/>
<circle cx="357.9" cy="375.5" r="2.5" fill="#646464"/>
<circle cx="386.9" cy="307.1" r="2.5" fill="#bdbb00"/>
<circle cx="384" cy="309.5" r="2.5" fill="#bdbb00"/>
<circle cx="386.4" cy="313.3" r="2.5" fill="#bdbb00"/>
<circle cx="384" cy="315.2" r="2.5" fill="#bdbb00"/>
<circle cx="386.4" cy="321.8" r="2.5" fill="#bdbb00"/>
<circle cx="384" cy="323.7" r="2.5" fill="#bdbb00"/>
<circle cx="386.9" cy="334.2" r="2.5" fill="#bdbb00"/>
<circle cx="381.2" cy="337.5" r="2.5" fill="#bdbb00"/>
<circle cx="384" cy="335.6" r="2.5" fill="#bdbb00"/>
<circle cx="389.7" cy="338.5" r="2.5" fill="#bdbb00"/>
<circle cx="386.4" cy="344" r="2.5" fill="#bdbb00"/>
<circle cx="384" cy="346.9" r="2.5" fill="#bdbb00"/>
<circle cx="386.9" cy="351.6" r="2.5" fill="#bdbb00"/>
<circle cx="385.5" cy="358.7" r="2.5" fill="#bdbb00"/>
<circle cx="378.6" cy="375.5" r="2.5" fill="#bdbb00"/>
<circle cx="381.05" cy="375.5" r="2.5" fill="#bdbb00"/>
<circle cx="383.5" cy="375.5" r="2.5" fill="#bdbb00"/>
<circle cx="385.95" cy="375.5" r="2.5" fill="#bdbb00"/>
<circle cx="388.4" cy="375.5" r="2.5" fill="#bdbb00"/>
<circle cx="390.85" cy="375.5" r="2.5" fill="#bdbb00"/>
<circle cx="393.3" cy="375.5" r="2.5" fill="#bdbb00"/>
<circle cx="414.6" cy="289.3" r="2.5" fill="#d3046b"/>
<circle cx="407.5" cy="295.3" r="2.5" fill="#d3046b"/>
<circle cx="412.2" cy="296.2" r="2.5" fill="#d3046b"/>
<circle cx="417" cy="295.9" r="2.5" fill="#d3046b"/>
<circle cx="421.7" cy="296.9" r="2.5" fill="#d3046b"/>
<circle cx="414.6" cy="304" r="2.5" fill="#d3046b"/>
<circle cx="412.2" cy="312.1" r="2.5" fill="#d3046b"/>
<circle cx="407.5" cy="315.9" r="2.5" fill="#d3046b"/>
<circle cx="421.7" cy="314.4" r="2.5" fill="#d3046b"/>
<circle cx="421.7" cy="320.1" r="2.5" fill="#d3046b"/>
<circle cx="407.5" cy="323.5" r="2.5" fill="#d3046b"/>
<circle cx="417" cy="324.4" r="2.5" fill="#d3046b"/>
<circle cx="412.2" cy="327.3" r="2.5" fill="#d3046b"/>
<circle cx="414.5" cy="333.7" r="2.5" fill="#d3046b"/>
<circle cx="417.1" cy="339.5" r="2.5" fill="#d3046b"/>
<circle cx="412.2" cy="342.4" r="2.5" fill="#d3046b"/>
<circle cx="412.2" cy="351.7" r="2.5" fill="#d3046b"/>
<circle cx="416.9" cy="351.7" r="2.5" fill="#d3046b"/>
<circle cx="421.8" cy="351.7" r="2.5" fill="#d3046b"/>
<circle cx="407.5" cy="354.6" r="2.5" fill="#d3046b"/>
<circle cx="414.5" cy="359.8" r="2.5" fill="#d3046b"/>
<circle cx="409.6" cy="375.5" r="2.5" fill="#d3046b"/>
<circle cx="414.5" cy="375.5" r="2.5" fill="#d3046b"/>
<circle cx="419.2" cy="375.5" r="2.5" fill="#d3046b"/>
<circle cx="442" cy="351.4" r="2.5" fill="#730c9f"/>
<circle cx="444" cy="351.2" r="2.5" fill="#730c9f"/>
<circle cx="445.8" cy="351.6" r="2.5" fill="#730c9f"/>
<circle cx="443.2" cy="357.7" r="2.5" fill="#730c9f"/>
<circle cx="444.4" cy="359.8" r="2.5" fill="#730c9f"/>
<circle cx="435.6" cy="375.6" r="2.5" fill="#730c9f"/>
<circle cx="438.15" cy="375.6" r="2.5" fill="#730c9f"/>
<circle cx="440.7" cy="375.6" r="2.5" fill="#730c9f"/>
<circle cx="443.25" cy="375.6" r="2.5" fill="#730c9f"/>
<circle cx="445.8" cy="375.6" r="2.5" fill="#730c9f"/>
<circle cx="448.35" cy="375.6" r="2.5" fill="#730c9f"/>
<circle cx="450.9" cy="375.6" r="2.5" fill="#730c9f"/>
<text transform="translate(362,392.8) rotate(-30) scale(1,1.035)" font-size="12.8" font-weight="bold" text-anchor="end">Untreated</text>
<text transform="translate(391.3,392.8) rotate(-30) scale(1,1.035)" font-size="12.8" font-weight="bold" text-anchor="end">Mock-infected</text>
<text transform="translate(420.4,392.8) rotate(-30) scale(1,1.035)" font-size="12.8" font-weight="bold" text-anchor="end" font-style="italic">S. aureus</text>
<text transform="translate(449.5,392.8) rotate(-30) scale(1,1.035)" font-size="12.8" font-weight="bold" text-anchor="end" font-style="italic">K. pneumoniae</text>
<line x1="307.8" y1="450" x2="462.3" y2="450" stroke="#000" stroke-width="1.8" />
<text transform="translate(339.8,471) scale(1,1.035)" font-size="15.65" font-weight="bold" text-anchor="start" >2<tspan dy="-4.34" font-size="10.25">nd</tspan><tspan dy="4.34"> infection</tspan></text>
<line x1="339.5" y1="473.2" x2="430.1" y2="473.2" stroke="#000" stroke-width="1.6" />
<line x1="356" y1="258.8" x2="450.7" y2="258.8" stroke="#000" stroke-width="2.0" />
<text transform="translate(401.8,262.7) scale(1,1.1)" font-size="17.2" font-weight="bold" text-anchor="middle" >*</text>
<line x1="386" y1="270.4" x2="450.7" y2="270.4" stroke="#000" stroke-width="2.0" />
<text transform="translate(418.6,274.4) scale(1,1.1)" font-size="17.2" font-weight="bold" text-anchor="middle" >*</text>
<line x1="414.5" y1="281.9" x2="450.7" y2="281.9" stroke="#000" stroke-width="2.0" />
<text transform="translate(432.5,285.3) scale(1,1.1)" font-size="17.2" font-weight="bold" text-anchor="middle" >*</text>
<text transform="translate(476.2,229.7) scale(1,1.045)" font-size="28" font-weight="bold" text-anchor="start" >E</text>
<use href="#one" transform="translate(571.42,239.5) scale(0.00767,-0.00763)"/>
<text transform="translate(580.15,239.5) scale(1,1.035)" font-size="15.7" font-weight="bold" text-anchor="start" >6 dpi</text>
<line x1="571.2" y1="242.2" x2="616.2" y2="242.2" stroke="#000" stroke-width="1.6" />
<line x1="528.9" y1="249.08" x2="528.9" y2="376.2" stroke="#000" stroke-width="1.25" />
<line x1="523.9" y1="375.6" x2="528.9" y2="375.6" stroke="#000" stroke-width="1.25" />
<use href="#one" transform="translate(503.08,383.4) scale(0.00630,-0.00627)"/>
<text transform="translate(510.26,383.4) scale(1,1.035)" font-size="12.9" font-weight="bold" text-anchor="start" >0</text>
<text transform="translate(517.93,379.4) scale(1,1.035)" font-size="8.2" font-weight="bold" text-anchor="start" >0</text>
<line x1="523.9" y1="359.86" x2="528.9" y2="359.86" stroke="#000" stroke-width="1.25" />
<use href="#one" transform="translate(503.08,367.66) scale(0.00630,-0.00627)"/>
<text transform="translate(510.26,367.66) scale(1,1.035)" font-size="12.9" font-weight="bold" text-anchor="start" >0</text>
<use href="#one" transform="translate(517.13,363.66) scale(0.00400,-0.00398)"/>
<line x1="523.9" y1="344.12" x2="528.9" y2="344.12" stroke="#000" stroke-width="1.25" />
<use href="#one" transform="translate(503.08,351.92) scale(0.00630,-0.00627)"/>
<text transform="translate(510.26,351.92) scale(1,1.035)" font-size="12.9" font-weight="bold" text-anchor="start" >0</text>
<text transform="translate(517.93,347.92) scale(1,1.035)" font-size="8.2" font-weight="bold" text-anchor="start" >2</text>
<line x1="523.9" y1="328.38" x2="528.9" y2="328.38" stroke="#000" stroke-width="1.25" />
<use href="#one" transform="translate(503.08,336.18) scale(0.00630,-0.00627)"/>
<text transform="translate(510.26,336.18) scale(1,1.035)" font-size="12.9" font-weight="bold" text-anchor="start" >0</text>
<text transform="translate(517.93,332.18) scale(1,1.035)" font-size="8.2" font-weight="bold" text-anchor="start" >3</text>
<line x1="523.9" y1="312.64" x2="528.9" y2="312.64" stroke="#000" stroke-width="1.25" />
<use href="#one" transform="translate(503.08,320.44) scale(0.00630,-0.00627)"/>
<text transform="translate(510.26,320.44) scale(1,1.035)" font-size="12.9" font-weight="bold" text-anchor="start" >0</text>
<text transform="translate(517.93,316.44) scale(1,1.035)" font-size="8.2" font-weight="bold" text-anchor="start" >4</text>
<line x1="523.9" y1="296.9" x2="528.9" y2="296.9" stroke="#000" stroke-width="1.25" />
<use href="#one" transform="translate(503.08,304.7) scale(0.00630,-0.00627)"/>
<text transform="translate(510.26,304.7) scale(1,1.035)" font-size="12.9" font-weight="bold" text-anchor="start" >0</text>
<text transform="translate(517.93,300.7) scale(1,1.035)" font-size="8.2" font-weight="bold" text-anchor="start" >5</text>
<line x1="523.9" y1="281.16" x2="528.9" y2="281.16" stroke="#000" stroke-width="1.25" />
<use href="#one" transform="translate(503.08,288.96) scale(0.00630,-0.00627)"/>
<text transform="translate(510.26,288.96) scale(1,1.035)" font-size="12.9" font-weight="bold" text-anchor="start" >0</text>
<text transform="translate(517.93,284.96) scale(1,1.035)" font-size="8.2" font-weight="bold" text-anchor="start" >6</text>
<line x1="523.9" y1="265.42" x2="528.9" y2="265.42" stroke="#000" stroke-width="1.25" />
<use href="#one" transform="translate(503.08,273.22) scale(0.00630,-0.00627)"/>
<text transform="translate(510.26,273.22) scale(1,1.035)" font-size="12.9" font-weight="bold" text-anchor="start" >0</text>
<text transform="translate(517.93,269.22) scale(1,1.035)" font-size="8.2" font-weight="bold" text-anchor="start" >7</text>
<line x1="523.9" y1="249.68" x2="528.9" y2="249.68" stroke="#000" stroke-width="1.25" />
<use href="#one" transform="translate(503.08,257.48) scale(0.00630,-0.00627)"/>
<text transform="translate(510.26,257.48) scale(1,1.035)" font-size="12.9" font-weight="bold" text-anchor="start" >0</text>
<text transform="translate(517.93,253.48) scale(1,1.035)" font-size="8.2" font-weight="bold" text-anchor="start" >8</text>
<text transform="translate(493,315.3) rotate(-90) scale(1,1.035)" font-size="12.7" font-weight="bold" text-anchor="middle"><tspan font-style="italic">A. baumannii</tspan> CFU/Lung</text>
<line x1="528.9" y1="359.86" x2="655.5" y2="359.86" stroke="#000" stroke-width="1.3" stroke-dasharray="1.5 1.2"/>
<line x1="528.3" y1="375.6" x2="655.5" y2="375.6" stroke="#000" stroke-width="1.25" />
<line x1="548.4" y1="375.6" x2="548.4" y2="380.9" stroke="#000" stroke-width="1.25" />
<line x1="577.3" y1="375.6" x2="577.3" y2="380.9" stroke="#000" stroke-width="1.25" />
<line x1="606.4" y1="375.6" x2="606.4" y2="380.9" stroke="#000" stroke-width="1.25" />
<line x1="635.5" y1="375.6" x2="635.5" y2="380.9" stroke="#000" stroke-width="1.25" />
<line x1="548.4" y1="336.3" x2="548.4" y2="348.4" stroke="#222" stroke-width="1.0" />
<line x1="543.6" y1="336.3" x2="553.2" y2="336.3" stroke="#222" stroke-width="1.0" />
<line x1="543.6" y1="348.4" x2="553.2" y2="348.4" stroke="#222" stroke-width="1.0" />
<line x1="538.9" y1="340" x2="557.9" y2="340" stroke="#111" stroke-width="1.6" />
<line x1="577.3" y1="337" x2="577.3" y2="343.5" stroke="#222" stroke-width="1.0" />
<line x1="572.5" y1="337" x2="582.1" y2="337" stroke="#222" stroke-width="1.0" />
<line x1="572.5" y1="343.5" x2="582.1" y2="343.5" stroke="#222" stroke-width="1.0" />
<line x1="567.8" y1="340.3" x2="586.8" y2="340.3" stroke="#111" stroke-width="1.6" />
<line x1="606.4" y1="268.5" x2="606.4" y2="278.9" stroke="#222" stroke-width="1.0" />
<line x1="601.6" y1="268.5" x2="611.2" y2="268.5" stroke="#222" stroke-width="1.0" />
<line x1="601.6" y1="278.9" x2="611.2" y2="278.9" stroke="#222" stroke-width="1.0" />
<line x1="596.9" y1="271.7" x2="615.9" y2="271.7" stroke="#111" stroke-width="1.6" />
<line x1="635.5" y1="343.5" x2="635.5" y2="354" stroke="#222" stroke-width="1.0" />
<line x1="630.7" y1="343.5" x2="640.3" y2="343.5" stroke="#222" stroke-width="1.0" />
<line x1="630.7" y1="354" x2="640.3" y2="354" stroke="#222" stroke-width="1.0" />
<line x1="626" y1="346.9" x2="645" y2="346.9" stroke="#111" stroke-width="1.6" />
<circle cx="548.4" cy="327" r="2.5" fill="#646464"/>
<circle cx="548.4" cy="337.3" r="2.5" fill="#646464"/>
<circle cx="546.2" cy="346.6" r="2.5" fill="#646464"/>
<circle cx="541" cy="351.8" r="2.5" fill="#646464"/>
<circle cx="550.6" cy="351.8" r="2.5" fill="#646464"/>
<circle cx="555.4" cy="351.8" r="2.5" fill="#646464"/>
<circle cx="545.9" cy="356.5" r="2.5" fill="#646464"/>
<circle cx="546.2" cy="375.6" r="2.5" fill="#646464"/>
<circle cx="550.6" cy="375.6" r="2.5" fill="#646464"/>
<circle cx="577.2" cy="324" r="2.5" fill="#bdbb00"/>
<circle cx="577.2" cy="327" r="2.5" fill="#bdbb00"/>
<circle cx="577.8" cy="340.3" r="2.5" fill="#bdbb00"/>
<circle cx="576" cy="344.5" r="2.5" fill="#bdbb00"/>
<circle cx="579.4" cy="345.3" r="2.5" fill="#bdbb00"/>
<circle cx="575.6" cy="349.3" r="2.5" fill="#bdbb00"/>
<circle cx="579.4" cy="349.6" r="2.5" fill="#bdbb00"/>
<circle cx="577" cy="353" r="2.5" fill="#bdbb00"/>
<circle cx="576" cy="356.6" r="2.5" fill="#bdbb00"/>
<circle cx="578.6" cy="357" r="2.5" fill="#bdbb00"/>
<circle cx="570.6" cy="375.6" r="2.5" fill="#bdbb00"/>
<circle cx="573.05" cy="375.6" r="2.5" fill="#bdbb00"/>
<circle cx="575.5" cy="375.6" r="2.5" fill="#bdbb00"/>
<circle cx="577.95" cy="375.6" r="2.5" fill="#bdbb00"/>
<circle cx="580.4" cy="375.6" r="2.5" fill="#bdbb00"/>
<circle cx="582.85" cy="375.6" r="2.5" fill="#bdbb00"/>
<circle cx="585.3" cy="375.6" r="2.5" fill="#bdbb00"/>
<circle cx="604.8" cy="256.2" r="2.5" fill="#d3046b"/>
<circle cx="607.6" cy="256.2" r="2.5" fill="#d3046b"/>
<circle cx="606.3" cy="272.6" r="2.5" fill="#d3046b"/>
<circle cx="606.3" cy="316.4" r="2.5" fill="#d3046b"/>
<circle cx="606.4" cy="322.3" r="2.5" fill="#d3046b"/>
<circle cx="607.7" cy="331.2" r="2.5" fill="#d3046b"/>
<circle cx="605.5" cy="335.1" r="2.5" fill="#d3046b"/>
<circle cx="606.4" cy="346.9" r="2.5" fill="#d3046b"/>
<circle cx="604.3" cy="351.4" r="2.5" fill="#d3046b"/>
<circle cx="608.6" cy="351.4" r="2.5" fill="#d3046b"/>
<circle cx="606.4" cy="359.9" r="2.5" fill="#d3046b"/>
<circle cx="598" cy="375.6" r="2.5" fill="#d3046b"/>
<circle cx="600.4" cy="375.6" r="2.5" fill="#d3046b"/>
<circle cx="602.8" cy="375.6" r="2.5" fill="#d3046b"/>
<circle cx="605.2" cy="375.6" r="2.5" fill="#d3046b"/>
<circle cx="607.6" cy="375.6" r="2.5" fill="#d3046b"/>
<circle cx="610" cy="375.6" r="2.5" fill="#d3046b"/>
<circle cx="612.4" cy="375.6" r="2.5" fill="#d3046b"/>
<circle cx="614.8" cy="375.6" r="2.5" fill="#d3046b"/>
<circle cx="635.5" cy="331.7" r="2.5" fill="#730c9f"/>
<circle cx="635.5" cy="338.5" r="2.5" fill="#730c9f"/>
<circle cx="635.5" cy="347.6" r="2.5" fill="#730c9f"/>
<circle cx="635.5" cy="351.4" r="2.5" fill="#730c9f"/>
<circle cx="628.2" cy="375.6" r="2.5" fill="#730c9f"/>
<circle cx="630.65" cy="375.6" r="2.5" fill="#730c9f"/>
<circle cx="633.1" cy="375.6" r="2.5" fill="#730c9f"/>
<circle cx="635.55" cy="375.6" r="2.5" fill="#730c9f"/>
<circle cx="638" cy="375.6" r="2.5" fill="#730c9f"/>
<circle cx="640.45" cy="375.6" r="2.5" fill="#730c9f"/>
<circle cx="642.9" cy="375.6" r="2.5" fill="#730c9f"/>
<text transform="translate(554.2,392.8) rotate(-30) scale(1,1.035)" font-size="12.8" font-weight="bold" text-anchor="end">Untreated</text>
<text transform="translate(583.1,392.8) rotate(-30) scale(1,1.035)" font-size="12.8" font-weight="bold" text-anchor="end">Mock-infected</text>
<text transform="translate(612.2,392.8) rotate(-30) scale(1,1.035)" font-size="12.8" font-weight="bold" text-anchor="end" font-style="italic">S. aureus</text>
<text transform="translate(641.3,392.8) rotate(-30) scale(1,1.035)" font-size="12.8" font-weight="bold" text-anchor="end" font-style="italic">K. pneumoniae</text>
<line x1="502.4" y1="450" x2="656" y2="450" stroke="#000" stroke-width="1.8" />
<text transform="translate(534,471) scale(1,1.035)" font-size="15.65" font-weight="bold" text-anchor="start" >2<tspan dy="-4.34" font-size="10.25">nd</tspan><tspan dy="4.34"> infection</tspan></text>
<line x1="533.7" y1="473.2" x2="624.3" y2="473.2" stroke="#000" stroke-width="1.6" />
</svg></body></html>
